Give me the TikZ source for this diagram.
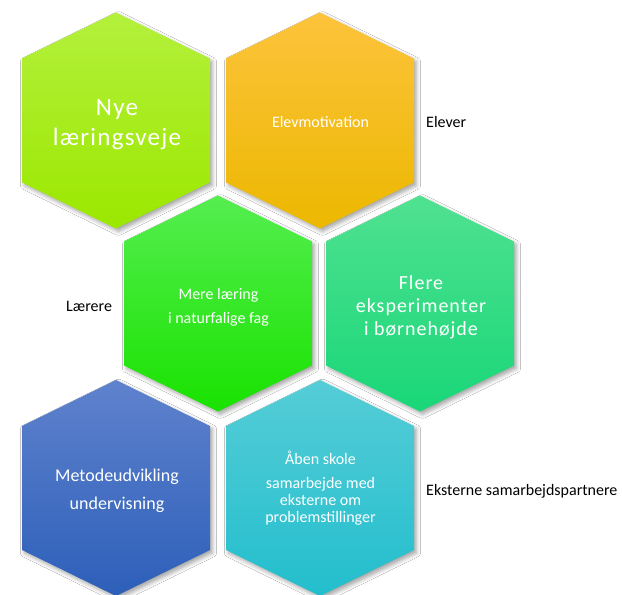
\documentclass[tikz,border=0pt]{standalone}
\usepackage{fontspec}
\setmainfont{Carlito}
\newfontfamily\spacedfont[LetterSpace=5]{Carlito}
\usetikzlibrary{shadows.blur}
\definecolor{hAtop}{HTML}{B4F03C}\definecolor{hAbot}{HTML}{9BE800}
\definecolor{hBtop}{HTML}{FDC33C}\definecolor{hBbot}{HTML}{ECB800}
\definecolor{hCtop}{HTML}{55EE50}\definecolor{hCbot}{HTML}{19E200}
\definecolor{hDtop}{HTML}{50E191}\definecolor{hDbot}{HTML}{19D778}
\definecolor{hEtop}{HTML}{5F82CD}\definecolor{hEbot}{HTML}{2D5FB9}
\definecolor{hFtop}{HTML}{55CDD7}\definecolor{hFbot}{HTML}{23BECD}
\newcommand\hexcell[4]{%
  \path[hexcellstyle, top color=#3, bottom color=#4]
    ({#1},{-#2+108}) -- ({#1+94},{-#2+62}) -- ({#1+94},{-#2-62}) --
    ({#1},{-#2-108}) -- ({#1-94},{-#2-62}) -- ({#1-94},{-#2+62}) -- cycle;}
\begin{document}
\begin{tikzpicture}[x=1pt,y=1pt,
  hexcellstyle/.style={blur shadow={shadow xshift=2.5pt,shadow yshift=-3pt,
      shadow blur radius=4pt,shadow opacity=35}},
  hextext/.style={text=white,align=center,inner sep=0pt},
  sidelabel/.style={text=black,anchor=base west,inner sep=0pt,
      font=\fontsize{16}{19}\selectfont}]
\fill[white] (0,0) rectangle (622,-595);
\useasboundingbox (0,0) rectangle (622,-595);
% hexagons
\hexcell{116}{120.5}{hAtop}{hAbot}
\hexcell{320}{120.5}{hBtop}{hBbot}
\hexcell{218}{303.5}{hCtop}{hCbot}
\hexcell{420}{303.5}{hDtop}{hDbot}
\hexcell{116}{488}{hEtop}{hEbot}
\hexcell{320}{488}{hFtop}{hFbot}
% texts
\node[hextext,font=\spacedfont\fontsize{25}{30}\selectfont] (h1) at (117,-125) {Nye\\læringsveje};
\node[hextext,anchor=base,font=\fontsize{16}{19}\selectfont] (h2) at (320.5,-127) {Elevmotivation};
\node[hextext,font=\fontsize{16}{24}\selectfont] (h3) at (218.5,-307.5) {Mere læring\\i naturfalige fag};
\node[hextext,font=\spacedfont\fontsize{20}{23}\selectfont] (h4) at (421,-307.5) {Flere\\eksperimenter\\i børnehøjde};
\node[hextext,font=\fontsize{18}{28}\selectfont] (h5) at (117,-491) {Metodeudvikling\\undervisning};
\node[hextext,font=\fontsize{16}{17}\selectfont] (h6) at (320.5,-488.5) {Åben skole\\[7pt]samarbejde med\\eksterne om\\problemstillinger};
% side labels
\node[sidelabel] (l1) at (426,-127) {Elever};
\node[sidelabel] (l2) at (66,-311) {Lærere};
\node[sidelabel] (l3) at (426,-495) {Eksterne samarbejdspartnere};
\end{tikzpicture}
\end{document}
